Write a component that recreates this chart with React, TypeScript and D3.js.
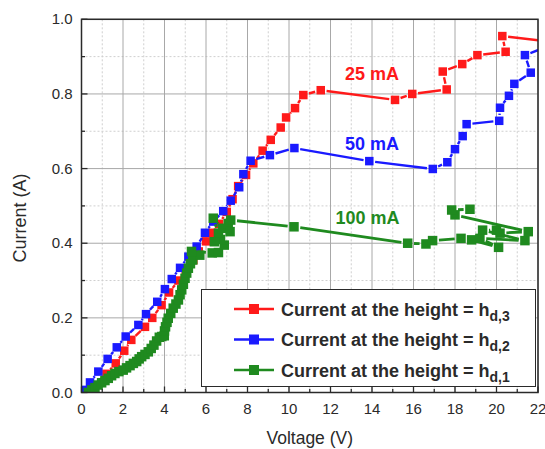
import React from 'react';
import * as d3 from 'd3';

const W = 545;
const H = 449;

const xMajorTicks = [0, 2, 4, 6, 8, 10, 12, 14, 16, 18, 20, 22];
const xMinorTicks = [1, 3, 5, 7, 9, 11, 13, 15, 17, 19, 21];
const yMajorTicks = [0, 0.2, 0.4, 0.6, 0.8, 1.0];
const yMinorTicks = [0.1, 0.3, 0.5, 0.7, 0.9];

// 25 mA – Current at the height = h_d,3
const redX = [0.05, 0.55, 1.2, 1.65, 2.06, 2.4, 3.06, 3.41, 3.86, 4.22, 4.67, 5.02, 5.39, 5.65, 6.0, 6.3, 6.63, 7.0, 7.28, 7.55, 7.93, 8.28, 8.73, 9.12, 9.6, 9.86, 10.29, 10.69, 11.53, 15.11, 15.94, 17.6, 17.41, 18.35, 19.08, 20.44, 20.28, 22.6];
const redY = [0.005, 0.017, 0.05, 0.078, 0.112, 0.141, 0.176, 0.2, 0.234, 0.268, 0.3, 0.328, 0.355, 0.378, 0.405, 0.428, 0.452, 0.484, 0.518, 0.553, 0.583, 0.614, 0.648, 0.677, 0.71, 0.737, 0.762, 0.797, 0.81, 0.784, 0.8, 0.812, 0.86, 0.88, 0.904, 0.913, 0.955, 0.94];

// 50 mA – Current at the height = h_d,2
const blueX = [0.09, 0.41, 0.81, 1.26, 1.7, 2.13, 2.74, 3.11, 3.65, 4.02, 4.35, 4.75, 5.15, 5.55, 5.95, 6.35, 6.83, 7.19, 7.6, 7.8, 8.15, 9.08, 10.26, 13.87, 16.93, 17.63, 18.0, 18.37, 18.56, 20.13, 20.17, 20.6, 20.86, 21.65, 21.37, 22.6];
const blueY = [0.007, 0.027, 0.056, 0.09, 0.121, 0.15, 0.181, 0.21, 0.243, 0.277, 0.304, 0.334, 0.364, 0.391, 0.428, 0.458, 0.486, 0.514, 0.55, 0.585, 0.621, 0.636, 0.655, 0.62, 0.599, 0.617, 0.652, 0.687, 0.719, 0.728, 0.763, 0.795, 0.827, 0.857, 0.904, 0.93];

// 100 mA – Current at the height = h_d,1
const greenX = [0.33, 0.5, 0.65, 0.8, 0.97, 1.13, 1.29, 1.45, 1.61, 1.8, 2.01, 2.17, 2.34, 2.5, 2.66, 2.78, 2.9, 3.06, 3.22, 3.36, 3.49, 3.62, 3.75, 3.87, 3.99, 4.0, 4.05, 4.12, 4.18, 4.3, 4.42, 4.55, 4.67, 4.75, 4.83, 4.91, 4.99, 5.07, 5.15, 5.25, 5.36, 5.7, 5.3, 6.3, 6.6, 6.88, 6.7, 6.4, 6.6, 6.35, 6.8, 7.07, 7.16, 7.19, 10.24, 15.72, 16.6, 16.92, 18.29, 18.8, 20.1, 19.2, 21.37, 19.33, 20.0, 20.17, 21.53, 18.0, 17.84, 18.72];
const greenY = [0.0, 0.007, 0.013, 0.02, 0.026, 0.032, 0.038, 0.045, 0.051, 0.056, 0.06, 0.066, 0.072, 0.078, 0.083, 0.09, 0.096, 0.102, 0.109, 0.118, 0.127, 0.138, 0.148, 0.15, 0.152, 0.165, 0.176, 0.188, 0.199, 0.212, 0.226, 0.237, 0.248, 0.262, 0.275, 0.29, 0.306, 0.32, 0.333, 0.345, 0.355, 0.368, 0.378, 0.374, 0.375, 0.395, 0.41, 0.404, 0.427, 0.467, 0.44, 0.453, 0.431, 0.462, 0.444, 0.4, 0.398, 0.407, 0.413, 0.409, 0.389, 0.413, 0.407, 0.435, 0.435, 0.427, 0.431, 0.476, 0.489, 0.491];

const seriesNames = ['25 mA', '50 mA', '100 mA'];
const legendSubs = ['d,3', 'd,2', 'd,1'];
const colors = ['#ff1a1a', '#1a1aff', '#1f8a1f'];
const labelAnchors = [
  [14.0, 0.837],
  [14.0, 0.651],
  [13.78, 0.4515],
];

const margin = { left: 81.5, right: 538, top: 19.3, bottom: 392.5 };

export default function App() {
  const x = d3.scaleLinear().domain([0, 22]).range([margin.left, margin.right]);
  const y = d3.scaleLinear().domain([0, 1]).range([margin.bottom, margin.top]);

  const series = [
    { xs: redX, ys: redY, color: colors[0], width: 2.4, size: 8.5 },
    { xs: blueX, ys: blueY, color: colors[1], width: 2.4, size: 8.5 },
    { xs: greenX, ys: greenY, color: colors[2], width: 2.8, size: 9.5 },
  ];

  const segmentsFor = (xs: number[], ys: number[], size: number) => {
    const gap = size / 2 + 1.6;
    const pts = xs.map((v, i) => [x(v), y(ys[i])]);
    const segs: number[][] = [];
    for (let i = 0; i < pts.length - 1; i++) {
      const [x1, y1] = pts[i];
      const [x2, y2] = pts[i + 1];
      const dx = x2 - x1;
      const dy = y2 - y1;
      const len = Math.hypot(dx, dy);
      if (len <= 2 * gap + 1) continue;
      const ux = dx / len;
      const uy = dy / len;
      segs.push([x1 + ux * gap, y1 + uy * gap, x2 - ux * gap, y2 - uy * gap]);
    }
    return segs;
  };

  const font = '"Liberation Sans", Arial, sans-serif';
  const ink = '#2a2a2a';

  return (
    <svg width={W} height={H} style={{ position: 'absolute', left: 0, top: 0, background: '#fff' }} fontFamily={font}>
      <defs>
        <clipPath id="plot">
          <rect x={margin.left} y={margin.top} width={margin.right - margin.left} height={margin.bottom - margin.top} />
        </clipPath>
      </defs>
      <rect x={0} y={0} width={W} height={H} fill="#fff" />
      {xMinorTicks.map((t) => (
        <line key={'xm' + t} x1={x(t)} x2={x(t)} y1={margin.top} y2={margin.bottom} stroke="#cfcfcf" strokeWidth={1} strokeDasharray="2,2" />
      ))}
      {yMinorTicks.map((t) => (
        <line key={'ym' + t} x1={margin.left} x2={margin.right} y1={y(t)} y2={y(t)} stroke="#cfcfcf" strokeWidth={1} strokeDasharray="2,2" />
      ))}
      {xMajorTicks.map((t) => (
        <line key={'xg' + t} x1={x(t)} x2={x(t)} y1={margin.top} y2={margin.bottom} stroke="#a8a8a8" strokeWidth={1} />
      ))}
      {yMajorTicks.map((t) => (
        <line key={'yg' + t} x1={margin.left} x2={margin.right} y1={y(t)} y2={y(t)} stroke="#a8a8a8" strokeWidth={1} />
      ))}

      <g clipPath="url(#plot)">
        {series.map((s, si) => (
          <g key={'s' + si}>
            {segmentsFor(s.xs, s.ys, s.size).map((sg, i) => (
              <line key={i} x1={sg[0]} y1={sg[1]} x2={sg[2]} y2={sg[3]} stroke={s.color} strokeWidth={s.width} />
            ))}
            {s.xs.map((v, i) => (
              <rect key={'m' + i} x={x(v) - s.size / 2} y={y(s.ys[i]) - s.size / 2} width={s.size} height={s.size} fill={s.color} />
            ))}
          </g>
        ))}
      </g>

      {seriesNames.map((n, i) => (
        <text key={'lab' + n} x={x(labelAnchors[i][0])} y={y(labelAnchors[i][1])} textAnchor="middle" fontSize={18} fontWeight="bold" fill={colors[i]}>
          {n}
        </text>
      ))}

      <rect x={201.5} y={289.5} width={334} height={97} fill="#fff" stroke={ink} strokeWidth={1} />
      {seriesNames.map((n, i) => {
        const cy = 309 + i * 30.5;
        return (
          <g key={'leg' + n}>
            <line x1={234} x2={274} y1={cy} y2={cy} stroke={colors[i]} strokeWidth={2.6} />
            <rect x={254 - 5} y={cy - 5} width={10} height={10} fill={colors[i]} />
            <text x={281} y={cy + 6.5} fontSize={18} fontWeight="bold" fill={ink}>
              Current at the height = h
              <tspan fontSize={14} dy={5}>{legendSubs[i]}</tspan>
            </text>
          </g>
        );
      })}

      <rect x={margin.left} y={margin.top} width={margin.right - margin.left} height={margin.bottom - margin.top} fill="none" stroke={ink} strokeWidth={1.5} />

      {xMajorTicks.map((t) => (
        <line key={'xt' + t} x1={x(t)} x2={x(t)} y1={margin.bottom} y2={margin.bottom - 6} stroke={ink} strokeWidth={1.3} />
      ))}
      {xMinorTicks.map((t) => (
        <line key={'xmt' + t} x1={x(t)} x2={x(t)} y1={margin.bottom} y2={margin.bottom - 3.5} stroke={ink} strokeWidth={1.3} />
      ))}
      {yMajorTicks.map((t) => (
        <line key={'yt' + t} x1={margin.left} x2={margin.left + 6} y1={y(t)} y2={y(t)} stroke={ink} strokeWidth={1.3} />
      ))}
      {yMinorTicks.map((t) => (
        <line key={'ymt' + t} x1={margin.left} x2={margin.left + 3.5} y1={y(t)} y2={y(t)} stroke={ink} strokeWidth={1.3} />
      ))}

      {xMajorTicks.map((t) => (
        <text key={'xl' + t} x={x(t)} y={margin.bottom + 21} textAnchor="middle" fontSize={15} fill={ink}>
          {d3.format('d')(t)}
        </text>
      ))}
      {yMajorTicks.map((t) => (
        <text key={'yl' + t} x={margin.left - 9} y={y(t) + 5} textAnchor="end" fontSize={15} fill={ink}>
          {d3.format('.1f')(t)}
        </text>
      ))}

      <text x={(margin.left + margin.right) / 2} y={444} textAnchor="middle" fontSize={17.5} fill={ink}>
        Voltage (V)
      </text>
      <text transform={`translate(25.5, 218) rotate(-90)`} textAnchor="middle" fontSize={18} fill={ink}>
        Current (A)
      </text>
    </svg>
  );
}
